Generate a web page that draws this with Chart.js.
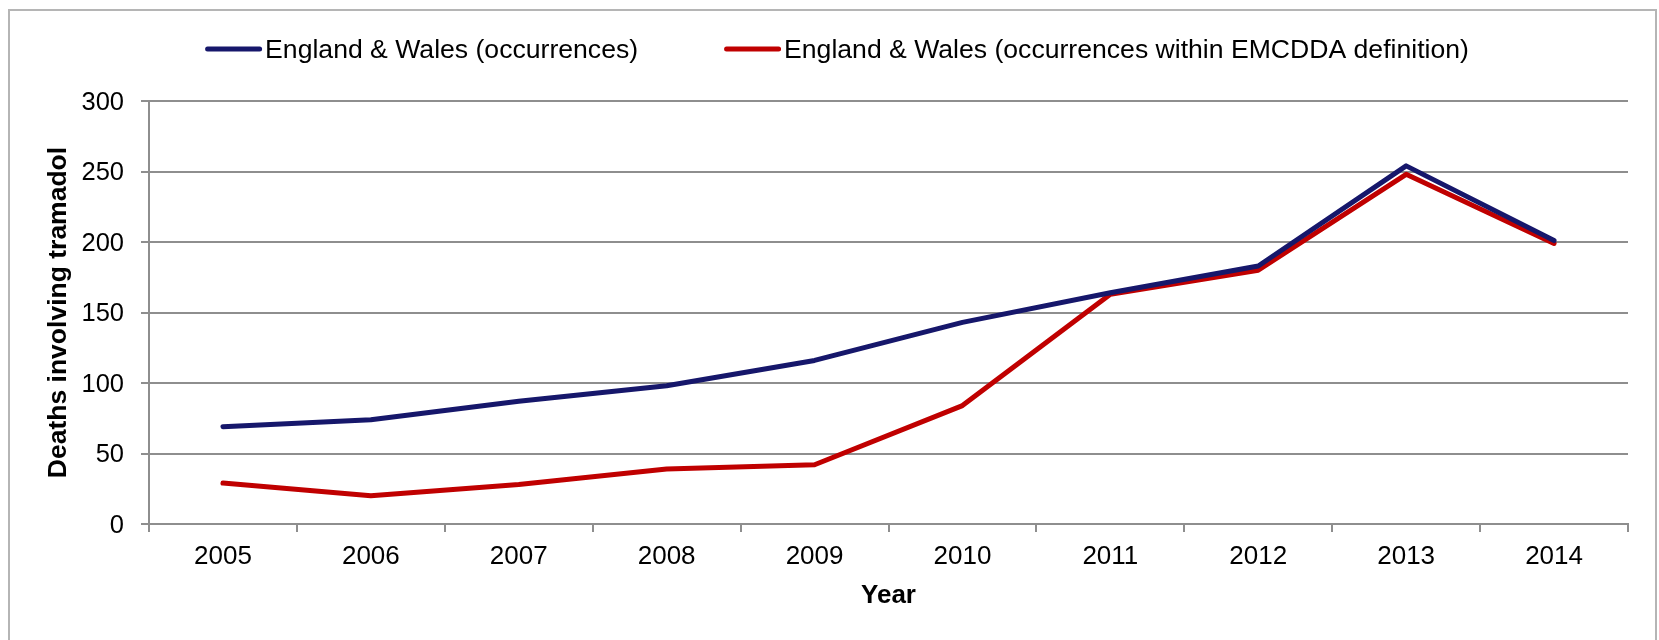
<!DOCTYPE html>
<html>
<head>
<meta charset="utf-8">
<title>Deaths involving tramadol</title>
<script src="https://cdn.jsdelivr.net/npm/chart.js@4/dist/chart.umd.min.js"></script>
<style>
  html, body { margin: 0; padding: 0; background: #fff; }
  canvas { display: block; }
</style>
</head>
<body>
<canvas id="tramadol" width="1659" height="640"></canvas>
<script>
// Deaths involving tramadol, England & Wales
const years = ['2005', '2006', '2007', '2008', '2009', '2010', '2011', '2012', '2013', '2014'];
const occurrences = [69, 74, 87, 98, 116, 143, 164, 183, 254, 201];
const withinEmcdda = [29, 20, 28, 39, 42, 84, 163, 180, 248, 199];
const seriesNames = ['England & Wales (occurrences)', 'England & Wales (occurrences within EMCDDA definition)'];
const seriesColors = ['#16176b', '#c00000'];
const yTicks = { min: 0, max: 300, step: 50 };

const FONT = "'Liberation Sans', Arial, sans-serif";
const GRID = '#8e8e8e';

// light grey frame round the whole chart
const framePlugin = {
  id: 'frame',
  beforeDraw(chart) {
    const ctx = chart.ctx;
    ctx.save();
    ctx.strokeStyle = '#b5b5b5';
    ctx.lineWidth = 2;
    ctx.strokeRect(9, 10, 1647, 700);
    ctx.restore();
  }
};

// legend drawn by hand so the gap between the two entries can be wide
const lineLegend = {
  id: 'lineLegend',
  afterDraw(chart) {
    const ctx = chart.ctx;
    const sets = chart.data.datasets;
    const lineLen = 52, gap = 8, between = 86, y = 51;
    ctx.save();
    ctx.font = '26.6px ' + FONT;
    const widths = sets.map(d => lineLen + gap + ctx.measureText(d.label).width);
    const total = widths.reduce((a, b) => a + b, 0) + between * (sets.length - 1);
    let x = 837 - total / 2;
    sets.forEach((d, i) => {
      ctx.strokeStyle = d.borderColor;
      ctx.lineWidth = 5;
      ctx.lineCap = 'round';
      ctx.beginPath();
      ctx.moveTo(x + 2.5, y - 2);
      ctx.lineTo(x + lineLen + 2.5, y - 2);
      ctx.stroke();
      ctx.fillStyle = '#000';
      ctx.textBaseline = 'middle';
      ctx.textAlign = 'left';
      ctx.fillText(d.label, x + lineLen + gap, y);
      x += widths[i] + between;
    });
    ctx.restore();
  }
};

new Chart(document.getElementById('tramadol'), {
  type: 'line',
  data: {
    labels: years,
    datasets: [
      { label: seriesNames[0], data: occurrences, borderColor: seriesColors[0], backgroundColor: seriesColors[0] },
      { label: seriesNames[1], data: withinEmcdda, borderColor: seriesColors[1], backgroundColor: seriesColors[1] }
    ]
  },
  options: {
    responsive: false,
    animation: false,
    devicePixelRatio: 1,
    layout: { padding: { top: 101, right: 31, bottom: 0, left: 0 } },
    elements: {
      line: { borderWidth: 5, tension: 0, borderJoinStyle: 'round', borderCapStyle: 'round' },
      point: { radius: 0, hoverRadius: 0 }
    },
    plugins: {
      legend: { display: false },
      tooltip: { enabled: false }
    },
    scales: {
      x: {
        offset: true,
        grid: { offset: true, drawOnChartArea: false, tickLength: 8, color: GRID, lineWidth: 2 },
        border: { color: GRID, width: 2 },
        ticks: { color: '#000', font: { family: FONT, size: 26 }, padding: 9 },
        title: {
          display: true, text: 'Year', color: '#000',
          font: { family: FONT, size: 26, weight: 'bold' },
          padding: { top: 0, bottom: 29 }
        },
        afterFit(scale) { scale.height = 116; }
      },
      y: {
        min: yTicks.min,
        max: yTicks.max,
        grid: { tickLength: 8, color: GRID, lineWidth: 2 },
        border: { color: GRID, width: 2 },
        ticks: { stepSize: yTicks.step, color: '#000', font: { family: FONT, size: 25.5 }, padding: 17, labelOffset: 1.5 },
        title: {
          display: true, text: 'Deaths involving tramadol', color: '#000',
          font: { family: FONT, size: 26.5, weight: 'bold' },
          padding: { top: 43, bottom: 0 }
        },
        afterFit(scale) { scale.width = 149; }
      }
    }
  },
  plugins: [framePlugin, lineLegend]
});
</script>
</body>
</html>
